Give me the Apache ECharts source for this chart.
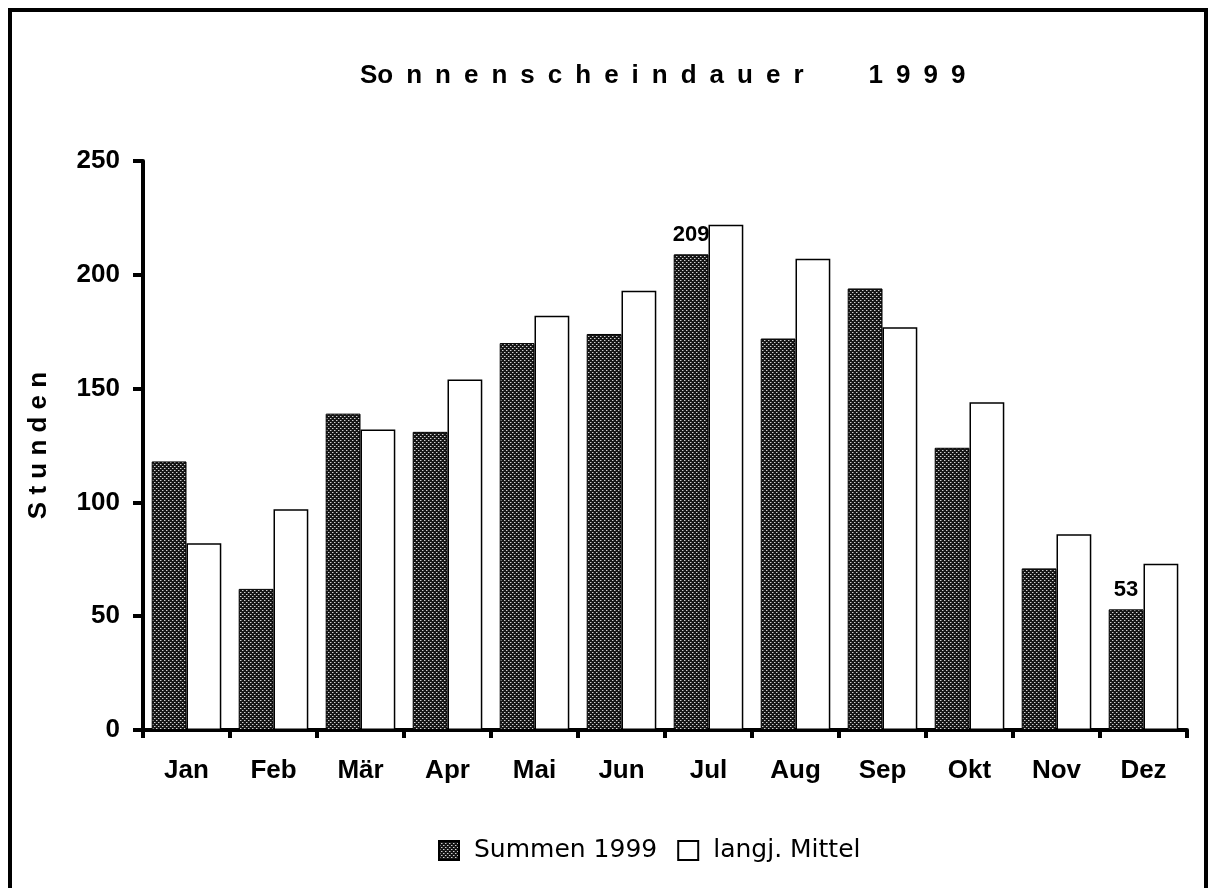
<!DOCTYPE html>
<html><head><meta charset="utf-8">
<script src="https://cdn.jsdelivr.net/npm/echarts@6/dist/echarts.min.js"></script>
<style>html,body{margin:0;padding:0;background:#fff}#c{width:1209px;height:888px}</style>
</head><body><div id="c"></div>
<script>
const categories = ['Jan','Feb','Mär','Apr','Mai','Jun','Jul','Aug','Sep','Okt','Nov','Dez'];
const summen1999 = [118,62,139,131,170,174,209,172,194,124,71,53];
const langjMittel = [82,97,132,154,182,193,222,207,177,144,86,73];
const labelledMonths = ['Jul','Dez'];
const yTicks = [0,50,100,150,200,250];
const seriesNames = ['Summen 1999','langj. Mittel'];

const E = '\u2002';
const titleText = 'So' + E + 'nnenscheindauer'.split('').join(E) + E+E+E+E+E + '1999'.split('').join(E);

// halftone pattern for dark bars
const pc = document.createElement('canvas');
pc.width = 4; pc.height = 4;
const ctx = pc.getContext('2d');
ctx.fillStyle = '#161616'; ctx.fillRect(0,0,4,4);
ctx.fillStyle = '#d0d0d0';
ctx.fillRect(0,0,1,1); ctx.fillRect(2,2,1,1);
ctx.fillStyle = '#6a6a6a';
ctx.fillRect(1,0,1,1); ctx.fillRect(3,2,1,1);

const chart = echarts.init(document.getElementById('c'), null, {renderer:'canvas'});
const font = '"Liberation Sans", Arial, sans-serif';
chart.setOption({
  backgroundColor: '#fff',
  animation: false,
  graphic: [{type:'rect', shape:{x:10,y:10,width:1196,height:900}, style:{fill:null, stroke:'#000', lineWidth:4}, silent:true}],
  title: {
    text: titleText, left: 355, top: 58,
    textStyle: {fontFamily: font, fontWeight:'bold', fontSize:26, color:'#000'}
  },
  legend: {
    left: 433, top: 833, itemGap: 20, itemWidth: 20, itemHeight: 19, icon: 'rect',
    data: seriesNames,
    textStyle: {fontFamily:'"DejaVu Sans", sans-serif', fontSize:25, color:'#000', padding:[0,0,0,10]}
  },
  grid: {left:143, right:22, top:161, bottom:158, containLabel:false},
  xAxis: {
    type:'category', data: categories, boundaryGap:true,
    axisLine:{show:true, lineStyle:{color:'#000', width:4}},
    axisTick:{show:true, interval:0, length:8, lineStyle:{color:'#000', width:4}},
    axisLabel:{interval:0, margin:28, color:'#000', fontFamily:font, fontWeight:'bold', fontSize:26}
  },
  yAxis: {
    type:'value', min: yTicks[0], max: yTicks[yTicks.length-1], interval: yTicks[1]-yTicks[0],
    name: 'S t u n d e n', nameLocation:'middle', nameRotate:90, nameGap:91,
    nameTextStyle:{color:'#000', fontFamily:font, fontWeight:'bold', fontSize:26},
    axisLine:{show:true, lineStyle:{color:'#000', width:4}},
    axisTick:{show:true, length:10, lineStyle:{color:'#000', width:4}},
    axisLabel:{margin:23, color:'#000', fontFamily:font, fontWeight:'bold', fontSize:26},
    splitLine:{show:false}
  },
  series: [
    {
      name: seriesNames[0], type:'bar', barWidth:'40%', barGap:'0%',
      itemStyle:{color:{image:pc, repeat:'repeat'}, borderColor:'#000', borderWidth:1},
      label:{show:false, position:'top', distance:8, color:'#000', fontFamily:font, fontWeight:'bold', fontSize:22},
      data: summen1999.map((v,i)=> labelledMonths.includes(categories[i]) ? {value:v, label:{show:true}} : v)
    },
    {
      name: seriesNames[1], type:'bar', barWidth:'40%', barGap:'0%',
      itemStyle:{color:'#fff', borderColor:'#000', borderWidth:1.5},
      data: langjMittel
    }
  ]
});
</script></body></html>
